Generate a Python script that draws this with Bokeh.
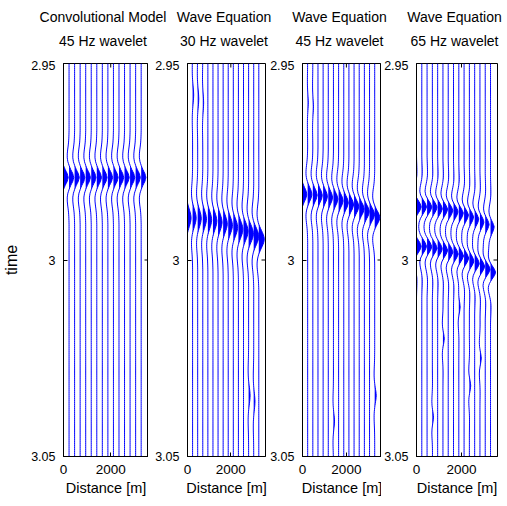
import numpy as np
from bokeh.plotting import figure
from bokeh.layouts import row, column
from bokeh.models import Range1d, FixedTicker, Div
from bokeh.embed import file_html
from bokeh.resources import INLINE

FONT = "Liberation Sans"

# ---------------- data ----------------
title_line1 = ["Convolutional Model", "Wave Equation", "Wave Equation", "Wave Equation"]
title_line2 = ["45 Hz wavelet", "30 Hz wavelet", "45 Hz wavelet", "65 Hz wavelet"]
x_label = "Distance [m]"
y_label = "time"
x_ticks = [0, 2000]
x_tick_labels = ["0", "2000"]
y_ticks = [2.95, 3.0, 3.05]
y_tick_labels = ["2.95", "3", "3.05"]
x_lim = [0, 3600]
t_lim = [2.95, 3.05]

# receiver positions [m]
offsets = [0, 235, 470, 705, 940, 1175, 1410, 1645, 1880, 2115, 2350, 2585, 2820, 3055, 3290]

# wavelets sampled every 1 ms (lag in ms)
wavelet_lag_ms = list(range(-13, 14))
wavelet_30 = [0.0, -0.02, -0.05, -0.09, -0.16, -0.24, -0.30, -0.30, -0.22, -0.05, 0.22, 0.55, 0.85, 1.0,
              0.85, 0.55, 0.22, -0.05, -0.22, -0.30, -0.30, -0.24, -0.16, -0.09, -0.05, -0.02, 0.0]
wavelet_45 = [0.0, 0.0, -0.02, -0.05, -0.10, -0.19, -0.30, -0.38, -0.38, -0.25, 0.02, 0.36, 0.78, 1.0,
              0.78, 0.36, 0.02, -0.25, -0.38, -0.38, -0.30, -0.19, -0.10, -0.05, -0.02, 0.0, 0.0]
wavelet_65 = [0.0, 0.02, 0.05, 0.08, 0.10, 0.08, -0.02, -0.18, -0.36, -0.45, -0.30, 0.12, 0.65, 1.0,
              0.65, 0.12, -0.30, -0.45, -0.36, -0.18, -0.02, 0.08, 0.10, 0.08, 0.05, 0.02, 0.0]

# event arrival times [s] and amplitudes per trace
conv_times = [2.9790, 2.9790, 2.9790, 2.9790, 2.9790, 2.9790, 2.9790, 2.9790,
              2.9790, 2.9790, 2.9790, 2.9790, 2.9790, 2.9790, 2.9790]
conv_amps = [1.0, 1.0, 1.0, 1.0, 1.0, 1.0, 1.0, 1.0, 1.0, 1.0, 1.0, 1.0, 1.0, 1.0, 1.0]

we30_times = [2.9893, 2.9893, 2.9894, 2.9896, 2.9898, 2.9901, 2.9904, 2.9908,
              2.9912, 2.9917, 2.9922, 2.9927, 2.9933, 2.9940, 2.9947]
we30_amps = [0.85, 0.85, 0.85, 0.88, 0.90, 0.92, 0.95, 0.98, 1.0, 1.03, 1.06, 1.10, 1.15, 1.20, 1.30]

we45_times = [2.9833, 2.9833, 2.9835, 2.9836, 2.9838, 2.9841, 2.9845, 2.9849,
              2.9854, 2.9859, 2.9864, 2.9870, 2.9877, 2.9884, 2.9892]
we45_amps = [1.0, 1.0, 1.0, 1.0, 1.0, 1.0, 1.02, 1.04, 1.06, 1.08, 1.10, 1.12, 1.15, 1.18, 1.20]

we65_times_a = [2.9864, 2.9864, 2.9865, 2.9866, 2.9869, 2.9871, 2.9874, 2.9877,
                2.9881, 2.9886, 2.9891, 2.9896, 2.9903, 2.9909, 2.9916]
we65_amps_a = [1.0, 1.0, 1.0, 1.0, 1.0, 1.0, 1.0, 1.0, 0.98, 0.95, 0.92, 0.90, 0.88, 0.85, 0.80]
we65_times_b = [2.9966, 2.9966, 2.9967, 2.9970, 2.9972, 2.9976, 2.9980, 2.9985,
                2.9990, 2.9996, 3.0003, 3.0009, 3.0017, 3.0024, 3.0032]
we65_amps_b = [1.0, 1.0, 1.0, 1.0, 1.0, 1.0, 1.0, 1.0, 1.0, 1.0, 1.0, 1.02, 1.05, 1.10, 1.15]

# weak scattered arrivals: (trace index, time, amplitude)
we30_weak = [(1, 2.9580, 0.25), (2, 2.9590, 0.25), (3, 2.9600, 0.20), (12, 3.0345, 0.35), (13, 3.0360, 0.30)]
we45_weak = [(1, 2.9600, 0.15), (2, 2.9610, 0.15), (14, 3.0345, 0.35), (6, 3.0410, 0.25)]
we65_weak = [(5, 3.0200, 0.30), (8, 3.0120, 0.30), (10, 3.0320, 0.30), (3, 3.0400, 0.25), (12, 3.0250, 0.30)]

# ---------------- styling / geometry ----------------
AMP = 200.0          # metres per unit trace amplitude
BLUE = "#0000ff"
frame_w = [86, 78, 79, 81]
frame_h = 393
border_l = [62, 39, 35, 35]
border_r = [0, 2, 0, 2]
TITLE_H = 50
TITLE_SHIFT = -7     # title strip sits a few px right of the plot row
BORDER_T = 3
BORDER_B = 44
FIG_H = BORDER_T + frame_h + BORDER_B
TICK_PX = 4

t = np.arange(t_lim[0], t_lim[1] + 0.00025, 0.0005)
lag_s = np.array(wavelet_lag_ms) / 1000.0


def trace(events, wavelet):
    tr = np.zeros_like(t)
    for t0, a in events:
        tr += a * np.interp(t - t0, lag_s, np.array(wavelet), left=0.0, right=0.0)
    return tr


def weak_events(weak, i):
    return [(tt, aa) for (k, tt, aa) in weak if k == i]


panels = []
panels.append([trace([(conv_times[i], conv_amps[i])], wavelet_45) for i in range(len(offsets))])
panels.append([trace([(we30_times[i], we30_amps[i])] + weak_events(we30_weak, i), wavelet_30)
               for i in range(len(offsets))])
panels.append([trace([(we45_times[i], we45_amps[i])] + weak_events(we45_weak, i), wavelet_45)
               for i in range(len(offsets))])
panels.append([trace([(we65_times_a[i], we65_amps_a[i]), (we65_times_b[i], we65_amps_b[i])]
                     + weak_events(we65_weak, i), wavelet_65) for i in range(len(offsets))])

figs = []
for k in range(4):
    w = border_l[k] + frame_w[k] + border_r[k]
    p = figure(width=w, height=FIG_H, x_range=Range1d(x_lim[0], x_lim[1]),
               y_range=Range1d(t_lim[1], t_lim[0]),
               output_backend="svg", toolbar_location=None,
               min_border_left=border_l[k], min_border_right=border_r[k],
               min_border_top=BORDER_T, min_border_bottom=BORDER_B)
    p.title.visible = False
    p.grid.visible = False
    p.outline_line_color = "black"
    p.outline_line_width = 1
    p.background_fill_color = "white"
    p.border_fill_color = "white"

    for i, x0 in enumerate(offsets):
        tr = panels[k][i]
        xs = x0 + AMP * tr
        xpos = x0 + AMP * np.clip(tr, 0, None)
        p.harea(x1=np.full_like(t, x0), x2=xpos, y=t, fill_color=BLUE, fill_alpha=1.0)
        p.line(xs, t, line_color=BLUE, line_width=1)

    # mirrored inward ticks on the top and right edges of the box
    dx = TICK_PX * (x_lim[1] - x_lim[0]) / frame_w[k]
    dy = TICK_PX * (t_lim[1] - t_lim[0]) / frame_h
    p.segment(x0=x_ticks, x1=x_ticks, y0=[t_lim[0]] * len(x_ticks),
              y1=[t_lim[0] + dy] * len(x_ticks), line_color="black", line_width=1)
    p.segment(x0=[x_lim[1]] * len(y_ticks), x1=[x_lim[1] - dx] * len(y_ticks),
              y0=y_ticks, y1=y_ticks, line_color="black", line_width=1)

    xa = p.xaxis[0]
    xa.ticker = FixedTicker(ticks=x_ticks)
    xa.major_label_overrides = {x_ticks[j]: x_tick_labels[j] for j in range(len(x_ticks))}
    xa.axis_label = x_label
    ya = p.yaxis[0]
    ya.ticker = FixedTicker(ticks=y_ticks)
    ya.major_label_overrides = {y_ticks[j]: y_tick_labels[j] for j in range(len(y_ticks))}
    if k == 0:
        ya.axis_label = y_label
        ya.axis_label_text_font = FONT
        ya.axis_label_text_font_size = "16px"
        ya.axis_label_text_font_style = "normal"
        ya.axis_label_text_color = "black"
        ya.axis_label_standoff = 8

    for ax in (xa, ya):
        ax.major_tick_in = TICK_PX
        ax.major_tick_out = 0
        ax.minor_tick_in = 0
        ax.minor_tick_out = 0
        ax.axis_line_color = "black"
        ax.major_tick_line_color = "black"
        ax.major_label_text_font = FONT
        ax.major_label_text_color = "black"
    xa.major_label_text_font_size = "13.5px"
    ya.major_label_text_font_size = "12.5px"
    xa.major_label_standoff = 8
    xa.axis_label_text_font = FONT
    xa.axis_label_text_font_size = "14.5px"
    xa.axis_label_text_font_style = "normal"
    xa.axis_label_text_color = "black"
    xa.axis_label_standoff = 3
    ya.major_label_standoff = 8
    figs.append(p)

# titles (two lines, centred over each frame) -- one strip so that long titles are not clipped
centres = []
x_left = 0
for k in range(4):
    centres.append(x_left + border_l[k] + frame_w[k] / 2.0)
    x_left += border_l[k] + frame_w[k] + border_r[k]

html = '<div style="position:relative;width:%dpx;height:%dpx;">' % (x_left - 8, TITLE_H)
for k in range(4):
    html += ('<div style="position:absolute;left:%.1fpx;top:1px;width:200px;text-align:center;'
             'font-family:\'%s\';font-size:14px;line-height:23.5px;color:black;white-space:nowrap;">'
             '%s<br>%s</div>') % (centres[k] - 100 + TITLE_SHIFT, FONT, title_line1[k], title_line2[k])
html += '</div>'
titles = Div(text=html, width=x_left - 8, height=TITLE_H)

layout = column(titles, row(*figs))
open("out.html", "w").write(file_html(layout, INLINE))
